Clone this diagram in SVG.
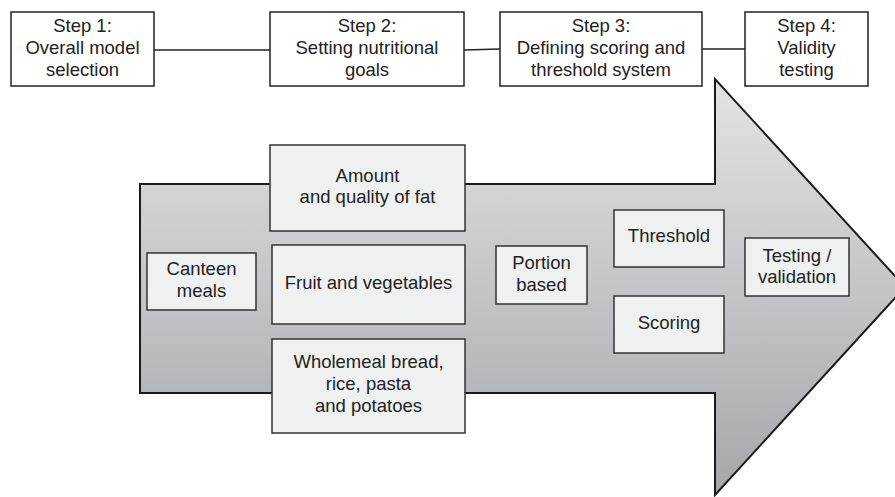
<svg xmlns="http://www.w3.org/2000/svg" width="895" height="497" viewBox="0 0 895 497">
<defs>
<linearGradient id="g" x1="0" y1="0" x2="0" y2="1">
<stop offset="0" stop-color="#e2e3e4"/>
<stop offset="1" stop-color="#a6a7aa"/>
</linearGradient>
<style>
.step{fill:#fff;stroke:#222;stroke-width:1.5}
.box{fill:#eff0f0;stroke:#333;stroke-width:1.5}
text{font-family:"Liberation Sans",Arial,sans-serif;font-size:18.5px;fill:#222;text-anchor:middle}
.conn{stroke:#222;stroke-width:1.5;fill:none}
</style>
</defs>
<rect width="895" height="497" fill="#fff"/>
<g id="connectors">
<line class="conn" x1="154" y1="50" x2="270" y2="50"/>
<line class="conn" x1="464" y1="50" x2="500" y2="49"/>
<line class="conn" x1="702" y1="49" x2="745" y2="49"/>
</g>
<g id="step1"><rect class="step" x="11" y="12" width="143" height="74"/>
<text x="82.5" y="32">Step 1:</text><text x="82.5" y="54">Overall model</text><text x="82.5" y="76">selection</text></g>
<g id="step2"><rect class="step" x="270" y="12" width="194" height="74"/>
<text x="367" y="32">Step 2:</text><text x="367" y="54">Setting nutritional</text><text x="367" y="76">goals</text></g>
<g id="step3"><rect class="step" x="500" y="12" width="202" height="74"/>
<text x="601" y="32">Step 3:</text><text x="601" y="54">Defining scoring and</text><text x="601" y="76">threshold system</text></g>
<g id="step4"><rect class="step" x="745" y="12" width="123" height="74"/>
<text x="806.5" y="32">Step 4:</text><text x="806.5" y="54">Validity</text><text x="806.5" y="76">testing</text></g>
<g id="arrow">
<path d="M140,184 H715 V79 L905,287 L715,495 V393 H140 Z" fill="url(#g)" stroke="#1a1a1a" stroke-width="2" stroke-linejoin="miter"/>
</g>
<g id="fat"><rect class="box" x="270" y="145" width="195" height="86"/>
<text x="367.5" y="182">Amount</text><text x="367.5" y="203">and quality of fat</text></g>
<g id="canteen"><rect class="box" x="147" y="253" width="109" height="57"/>
<text x="201.5" y="275">Canteen</text><text x="201.5" y="297">meals</text></g>
<g id="fruit"><rect class="box" x="272" y="245" width="193" height="79"/>
<text x="368.5" y="289">Fruit and vegetables</text></g>
<g id="wholemeal"><rect class="box" x="272" y="339" width="193" height="94"/>
<text x="368.5" y="368">Wholemeal bread,</text><text x="368.5" y="390">rice, pasta</text><text x="368.5" y="412">and potatoes</text></g>
<g id="portion"><rect class="box" x="496" y="246" width="91" height="58"/>
<text x="541.5" y="269">Portion</text><text x="541.5" y="291">based</text></g>
<g id="threshold"><rect class="box" x="614" y="210" width="110" height="57"/>
<text x="669" y="242">Threshold</text></g>
<g id="scoring"><rect class="box" x="614" y="296" width="110" height="57"/>
<text x="669" y="329">Scoring</text></g>
<g id="testing"><rect class="box" x="745" y="238" width="104" height="58"/>
<text x="797" y="262">Testing /</text><text x="797" y="283">validation</text></g>
</svg>
